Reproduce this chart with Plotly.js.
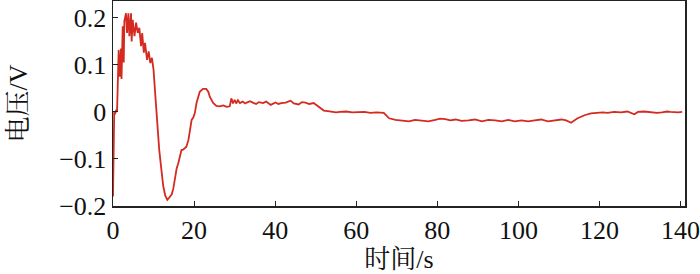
<!DOCTYPE html>
<html><head><meta charset="utf-8">
<script src="https://cdn.plot.ly/plotly-3.0.1.min.js"></script>
<style>
html,body{margin:0;padding:0;background:#fff}#chart{width:700px;height:274px}
#chart svg text{font-family:"Liberation Serif","Times New Roman","Noto Serif CJK SC","Noto Sans CJK SC",serif !important;}
</style>
</head><body><div id="chart"></div>
<script>
const time = [0,0.15,0.3,0.5,0.8,1.0,1.16,1.4,1.65,1.97,2.1,2.4,2.65,2.8,3.2,3.46,3.8,4.04,4.45,4.6,4.86,5.3,5.7,6.1,6.5,6.92,7.2,7.6,7.9,8.4,8.8,9.2,9.6,10.0,10.4,10.9,11.4,11.9,12.4,12.9,13.4,13.8,14.1,14.5,14.9,15.3,15.7,16.1,16.5,16.9,17.3,18.1,18.6,19.0,19.4,19.8,20.2,20.6,21.0,21.4,22.2,23.0,23.5,23.9,24.7,25.5,26.3,27.2,28.0,28.8,29.2,29.6,30.0,30.4,30.8,31.3,32,32.6,33,33.8,34.5,35.3,36,37,37.8,38.9,40.1,40.8,41.5,42.6,43.8,44.6,45.8,46.6,47.5,48.4,49.5,50.7,52,53,54,55,56,57.5,59,60.5,62,63.5,65,66.8,68.1,69.7,71.3,73,74.5,76,77.8,79.5,80.7,82,83.2,84.5,86,87.7,89.3,91,92.6,94.3,95.9,97.5,99.1,100.8,102.4,104,105.6,107.3,108.9,110.6,111.8,113,114.5,116.3,117.9,119.6,120.8,122,123.6,125.3,126.9,128.6,129.5,131,132.6,134.2,135.4,136.7,137.5,138.3,139.4,140.4,141.1];
const voltage = [-0.18,-0.05,0.0,-0.005,0.005,0.0,0.058,0.132,0.075,0.135,0.07,0.182,0.105,0.193,0.21,0.168,0.21,0.161,0.21,0.15,0.196,0.161,0.19,0.168,0.179,0.14,0.168,0.126,0.147,0.111,0.129,0.104,0.115,0.09,0.04,-0.03,-0.08,-0.12,-0.158,-0.178,-0.187,-0.183,-0.18,-0.175,-0.162,-0.138,-0.12,-0.109,-0.095,-0.081,-0.08,-0.074,-0.06,-0.038,-0.017,-0.012,-0.002,0.019,0.032,0.043,0.049,0.049,0.043,0.032,0.019,0.013,0.012,0.014,0.011,0.012,0.029,0.018,0.026,0.018,0.025,0.019,0.022,0.018,0.02,0.023,0.02,0.017,0.021,0.019,0.022,0.015,0.02,0.017,0.019,0.02,0.024,0.018,0.016,0.021,0.02,0.017,0.019,0.011,0.003,0.002,0.001,-0.001,0.0,0.001,-0.001,0.0,0.0,-0.002,-0.001,-0.002,-0.0135,-0.017,-0.019,-0.02,-0.017,-0.018,-0.02,-0.017,-0.014,-0.015,-0.018,-0.016,-0.019,-0.018,-0.016,-0.02,-0.017,-0.018,-0.02,-0.017,-0.02,-0.018,-0.02,-0.018,-0.016,-0.02,-0.018,-0.016,-0.018,-0.023,-0.014,-0.007,-0.003,-0.002,-0.001,-0.002,0.0,-0.001,0.001,-0.005,0.0,0.001,0.0,-0.002,-0.001,0.001,0.0,-0.001,-0.001,0.0];
const xTicks = [0,20,40,60,80,100,120,140];
const yTicks = [-0.2,-0.1,0,0.1,0.2];
const yTickText = ['\u22120.2','\u22120.1','0','0.1','0.2'];
const xTitle = '时间/s';
const yTitle = '电压/V';

const font = 'Liberation Serif, Times New Roman, serif';
Plotly.newPlot('chart', [{
  x: time, y: voltage, type: 'scatter', mode: 'lines',
  line: {color: '#d42a20', width: 1.8}
}], {
  width: 700, height: 274,
  margin: {l: 113, r: 15, t: 1, b: 68},
  paper_bgcolor: '#fff', plot_bgcolor: '#fff',
  showlegend: false,
  font: {family: font, color: '#111', size: 26},
  xaxis: {
    range: [0, 141.1], tickvals: xTicks, ticktext: xTicks.map(String),
    ticks: 'inside', ticklen: 5, tickwidth: 1, tickcolor: '#222',
    showline: true, mirror: true, linecolor: '#222', linewidth: 1.5,
    showgrid: false, zeroline: false, ticklabeloverflow: 'allow',
    tickfont: {family: font, size: 26, color: '#111'},
    title: {text: xTitle, font: {family: font, size: 26, color: '#111'}, standoff: 4}
  },
  yaxis: {
    range: [-0.2, 0.236], tickvals: yTicks, ticktext: yTickText,
    ticks: 'inside', ticklen: 5, tickwidth: 1, tickcolor: '#222',
    showline: true, mirror: true, linecolor: '#222', linewidth: 1.5,
    showgrid: false, zeroline: false,
    tickfont: {family: font, size: 26, color: '#111'},
    title: {text: yTitle, font: {family: font, size: 26, color: '#111'}, standoff: 24}
  }
}, {displayModeBar: false, staticPlot: true});
</script></body></html>
